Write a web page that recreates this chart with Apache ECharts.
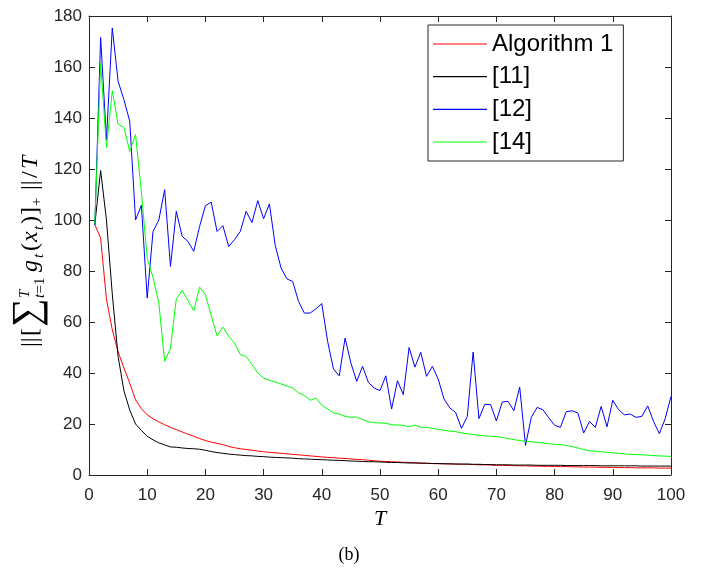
<!DOCTYPE html>
<html>
<head>
<meta charset="utf-8">
<script src="https://cdn.jsdelivr.net/npm/echarts@6/dist/echarts.min.js"></script>
<style>
html,body{margin:0;padding:0;background:#fff;}
#c{width:706px;height:569px;}
</style>
</head>
<body>
<div id="c"></div>
<script>
// ---- data ----
const T = Array.from({length: 100}, (_, i) => i + 1);
const xTicks = [0,10,20,30,40,50,60,70,80,90,100];
const yTicks = [0,20,40,60,80,100,120,140,160,180];
const seriesNames = ['Algorithm 1', '[11]', '[12]', '[14]'];

const alg1 = [98.2,92.9,68.9,57,48.3,42,36,29.5,26,23.6,
  22.1,20.8,19.7,18.7,17.8,16.9,16.0,15.2,14.3,13.5,
  12.9,12.4,11.9,11.2,10.7,10.3,10.0,9.7,9.4,9.1,
  8.9,8.7,8.5,8.3,8.1,7.9,7.7,7.5,7.3,7.1,
  6.9,6.8,6.6,6.5,6.3,6.1,6.0,5.8,5.6,5.4,
  5.3,5.2,5.1,5.0,4.9,4.8,4.7,4.6,4.5,4.4,
  4.4,4.3,4.3,4.2,4.2,4.1,4.0,4.0,3.9,3.8,
  3.8,3.7,3.7,3.6,3.6,3.5,3.5,3.4,3.4,3.3,
  3.3,3.3,3.2,3.2,3.1,3.1,3.1,3.0,3.0,3.0,
  2.9,2.9,2.9,2.8,2.8,2.8,2.8,2.7,2.7,2.7];

const ref11 = [98.2,119.4,100,71,46.5,33,25.5,20,17.5,15.2,
  13.8,12.6,11.8,11.0,10.9,10.6,10.4,10.3,10.1,9.7,
  9.2,8.8,8.5,8.2,8.0,7.8,7.6,7.5,7.3,7.2,
  7.0,6.9,6.8,6.7,6.6,6.4,6.3,6.2,6.1,6.0,
  5.9,5.8,5.7,5.6,5.5,5.4,5.3,5.2,5.2,5.1,
  5.0,4.9,4.9,4.8,4.7,4.7,4.6,4.6,4.5,4.5,
  4.4,4.4,4.3,4.3,4.3,4.2,4.2,4.1,4.1,4.0,
  4.0,4.0,3.9,3.9,3.9,3.9,3.8,3.8,3.8,3.8,
  3.8,3.7,3.7,3.7,3.7,3.7,3.7,3.6,3.6,3.6,
  3.6,3.6,3.6,3.6,3.5,3.5,3.5,3.5,3.5,3.5];

const ref12 = [98,171.6,131.5,175.3,154.4,147.2,138.7,100,105.8,69.4,
  95.5,100,111.9,81.8,103.4,93.6,91.6,87.7,97.5,105.6,
  107,95.5,97.8,89.6,92.3,95.5,103.4,99,107.6,100.5,
  106.3,90,81.2,76.9,75.9,68.1,63.5,63.5,65.2,67.2,
  52.4,41.6,38.9,53.7,43.9,36.7,42.6,36.3,34.1,33.1,
  38.9,25.9,37,31.5,50,42.3,48.1,38.7,42.6,37.6,
  29.8,26.3,24.5,18.3,23,48.2,22.1,27.7,27.6,21.2,
  28.6,28.9,25.2,34.5,11.6,22.6,26.5,25.6,22.4,19.5,
  18.7,24.8,25.2,24.3,16.5,21,18.7,26.9,18.9,29.3,
  25.6,23.6,23.9,22.6,23,27.1,21,16.2,22.1,30.8];

const ref14 = [98.6,161.6,128.5,150.7,137.6,136.3,126.9,133.5,111,85,
  77.5,67.5,44.6,49.8,69,72.4,68.5,64.4,73.7,70.7,
  62.5,54.6,58,54.4,51.8,47.2,46.5,43.3,40,38,
  37.1,36.5,35.7,34.9,34.1,32.2,31.2,29.3,30.2,27.3,
  25.9,24.3,23.9,23,22.6,22.7,21.7,20.9,20.5,20.4,
  20.3,19.7,19.6,19.5,18.9,19.6,18.7,18.7,18.3,17.9,
  17.5,17.2,17.0,16.5,16.2,15.9,15.6,15.3,15.2,15.1,
  14.7,14.3,13.9,13.5,13.2,13.0,12.8,12.6,12.3,12.0,
  11.9,11.6,11.2,10.6,10.0,9.5,9.3,9.1,8.9,8.7,
  8.5,8.3,8.1,8.0,7.9,7.8,7.6,7.5,7.4,7.3];

const seriesData = [alg1, ref11, ref12, ref14];
const seriesColors = ['#ff0000', '#000000', '#0000ff', '#00ff00'];

// ---- chart ----
const axisColor = '#262626';
const sans = 'Liberation Sans, Arial, sans-serif';
const serif = 'Liberation Serif, Times New Roman, serif';
const chart = echarts.init(document.getElementById('c'), null, {renderer: 'canvas'});

function baseAxis(ticks, extra) {
  return Object.assign({
    type: 'value',
    min: ticks[0],
    max: ticks[ticks.length - 1],
    interval: ticks[1] - ticks[0],
    axisLine: {show: true, onZero: false, lineStyle: {color: axisColor, width: 1}},
    axisTick: {show: true, inside: true, length: 6, lineStyle: {color: axisColor, width: 1}},
    splitLine: {show: false}
  }, extra);
}

// y-axis label pieces, laid out along the text direction
function piece(x, text, size, italic, base, yOverride) {
  return {
    type: 'text',
    x: x,
    y: yOverride !== undefined ? yOverride : base - 0.34 * size,
    style: {
      text: text,
      fill: '#000',
      font: (italic ? 'italic ' : '') + size + 'px ' + serif,
      align: 'left',
      verticalAlign: 'middle'
    }
  };
}
const ylabelPieces = [
  piece(-102, '||', 24, false, 0),
  piece(-91, '[', 24, false, 0),
  piece(-82, '\u2211', 40, false, 0, -11),
  piece(-53, 'T', 15, true, -9),
  piece(-53, 't', 15, true, 6),
  piece(-48.5, '=1', 15, false, 6),
  piece(-27, 'g', 24, true, 0),
  piece(-13, 't', 15, true, 5),
  piece(-6, '(', 24, false, 0),
  piece(3, 'x', 24, true, 0),
  piece(15, 't', 15, true, 5),
  piece(21, ')', 24, false, 0),
  piece(30, ']', 24, false, 0),
  piece(39, '+', 15, false, 3),
  piece(55, '||', 24, false, 0),
  piece(67, '/', 24, false, 0),
  piece(76, 'T', 24, true, 0)
];

const labelStyle = {show: true, color: axisColor, fontSize: 17, fontFamily: sans,
  showMinLabel: true, showMaxLabel: true};

const option = {
  animation: false,
  backgroundColor: '#ffffff',
  grid: {left: 89, right: 35, top: 16, bottom: 94, containLabel: false},
  xAxis: [
    baseAxis(xTicks, {position: 'bottom', axisLabel: Object.assign({margin: 12}, labelStyle)}),
    baseAxis(xTicks, {position: 'top', axisLabel: {show: false}})
  ],
  yAxis: [
    baseAxis(yTicks, {position: 'left', axisLabel: Object.assign({margin: 7}, labelStyle)}),
    baseAxis(yTicks, {position: 'right', axisLabel: {show: false}})
  ],
  legend: {
    orient: 'vertical',
    left: 428,
    top: 25,
    data: seriesNames.map(n => ({name: n, icon: 'rect'})),
    itemWidth: 54,
    itemHeight: 1.2,
    itemGap: 4.67,
    itemTextGap: 5,
    padding: [5, 10, 5, 5],
    borderColor: axisColor,
    borderWidth: 1,
    backgroundColor: '#ffffff',
    selectedMode: false,
    textStyle: {fontSize: 24, lineHeight: 28, color: '#000', fontFamily: sans}
  },
  graphic: [
    {
      type: 'text',
      x: 380, y: 519,
      style: {text: 'T', font: 'italic 22px ' + serif, fill: '#000', align: 'center', verticalAlign: 'middle'}
    },
    {
      type: 'text',
      x: 349, y: 555,
      style: {text: '(b)', font: '18px ' + serif, fill: '#000', align: 'center', verticalAlign: 'middle'}
    },
    {
      type: 'group',
      x: 39, y: 245,
      rotation: Math.PI / 2,
      children: ylabelPieces
    }
  ],
  series: seriesNames.map((n, k) => ({
    name: n,
    type: 'line',
    xAxisIndex: 0,
    yAxisIndex: 0,
    data: T.map((t, i) => [t, seriesData[k][i]]),
    showSymbol: false,
    symbol: 'none',
    color: seriesColors[k],
    lineStyle: {color: seriesColors[k], width: 1},
    itemStyle: {color: seriesColors[k]},
    z: 2 + k
  }))
};
chart.setOption(option);
</script>
</body>
</html>
